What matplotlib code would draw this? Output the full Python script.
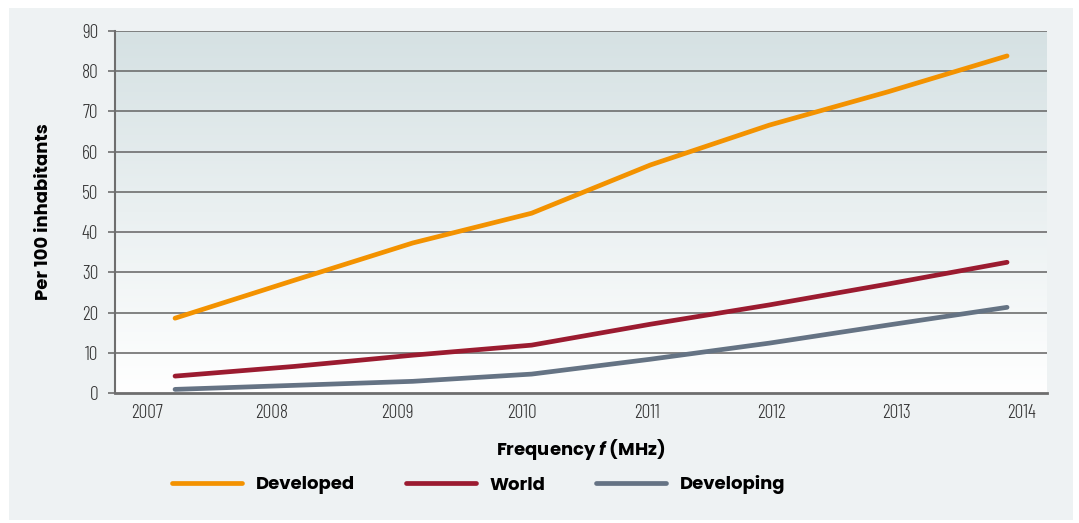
import matplotlib.pyplot as plt
import numpy as np
from matplotlib.patches import Rectangle
from matplotlib.lines import Line2D

years = [2007, 2008, 2009, 2010, 2011, 2012, 2013, 2014]
developed = [18.6, 28.0, 37.3, 44.7, 56.7, 66.6, 74.9, 83.8]
world = [4.2, 6.6, 9.4, 11.9, 17.1, 21.9, 27.1, 32.5]
developing = [0.9, 1.9, 2.9, 4.7, 8.4, 12.4, 16.9, 21.3]
year_labels = ["2007", "2008", "2009", "2010", "2011", "2012", "2013", "2014"]
series_names = ["Developed", "World", "Developing"]

c_dev = "#f39200"
c_world = "#9b1b30"
c_devg = "#657384"
grid_c = "#6e6e6e"

narrow = "Barlow Condensed"
bold_font = "Poppins"
plt.rcParams["mathtext.fontset"] = "custom"
plt.rcParams["mathtext.it"] = "Poppins:italic:bold"

fig = plt.figure(figsize=(10.79, 5.23), dpi=100)
fig.patch.set_facecolor("white")
fig.add_artist(Rectangle((9 / 1079, 3 / 523), 1064 / 1079, 512 / 523,
                         transform=fig.transFigure, facecolor="#eef2f3",
                         edgecolor="none", zorder=0))

ax = fig.add_axes([115 / 1079, 1 - 393 / 523, 932 / 1079, 362 / 523])
ax.set_facecolor("none")

# vertical gradient behind the plot
grad = np.linspace(0, 1, 256)[:, None]
top = np.array([213, 225, 227]) / 255
bot = np.array([255, 255, 255]) / 255
img = top[None, None, :] * (1 - grad[:, :, None]) + bot[None, None, :] * grad[:, :, None]
ax.imshow(img, extent=[0, 1, 0, 1], transform=ax.transAxes, aspect="auto", zorder=0)

for v in range(10, 100, 10):
    ax.axhline(v, color=grid_c, lw=1.2, zorder=1)

lw = 3.4
ax.plot(years, developing, color=c_devg, lw=lw, solid_capstyle="round", zorder=3)
ax.plot(years, world, color=c_world, lw=lw, solid_capstyle="round", zorder=3)
ax.plot(years, developed, color=c_dev, lw=lw, solid_capstyle="round", zorder=3)

ax.set_ylim(0, 90)
ax.set_xlim(2006.495, 2014.336)
tick_font = {"family": narrow, "size": 14, "weight": 300}
ax.set_yticks(range(0, 100, 10))
ax.set_yticklabels([str(v) for v in range(0, 100, 10)], fontdict=tick_font, color="#333333")

# year labels sit on their own slightly wider spacing
tick_pos = 2006.765 + 1.0513 * np.arange(len(year_labels))
ax.set_xticks(tick_pos)
ax.set_xticklabels(year_labels, fontdict=tick_font, color="#333333")
ax.tick_params(axis="x", length=0, pad=8)
ax.tick_params(axis="y", length=5, width=1.2, color=grid_c, pad=7)

for s in ["top", "right"]:
    ax.spines[s].set_visible(False)
ax.spines["left"].set_color(grid_c)
ax.spines["left"].set_linewidth(1.5)
ax.spines["bottom"].set_color(grid_c)
ax.spines["bottom"].set_linewidth(2)

label_font = {"family": bold_font, "weight": "bold", "size": 13}
ax.set_ylabel("Per 100 inhabitants", fontdict=label_font)
ax.yaxis.set_label_coords(-0.066, 0.5)

fig.text(581 / 1079, 1 - 450 / 523, r"Frequency $\it{f}$ (MHz)",
         fontdict=label_font, ha="center", va="center")

handles = [Line2D([], [], color=c, lw=lw, solid_capstyle="round") for c in (c_dev, c_world, c_devg)]
fig.legend(handles, series_names, ncol=3, frameon=False,
           loc="center left", bbox_to_anchor=(172 / 1079, 1 - 485 / 523),
           prop=label_font,
           handlelength=3.9, handletextpad=0.75, columnspacing=2.8,
           borderaxespad=0, borderpad=0)

fig.savefig("out.png", dpi=100)
